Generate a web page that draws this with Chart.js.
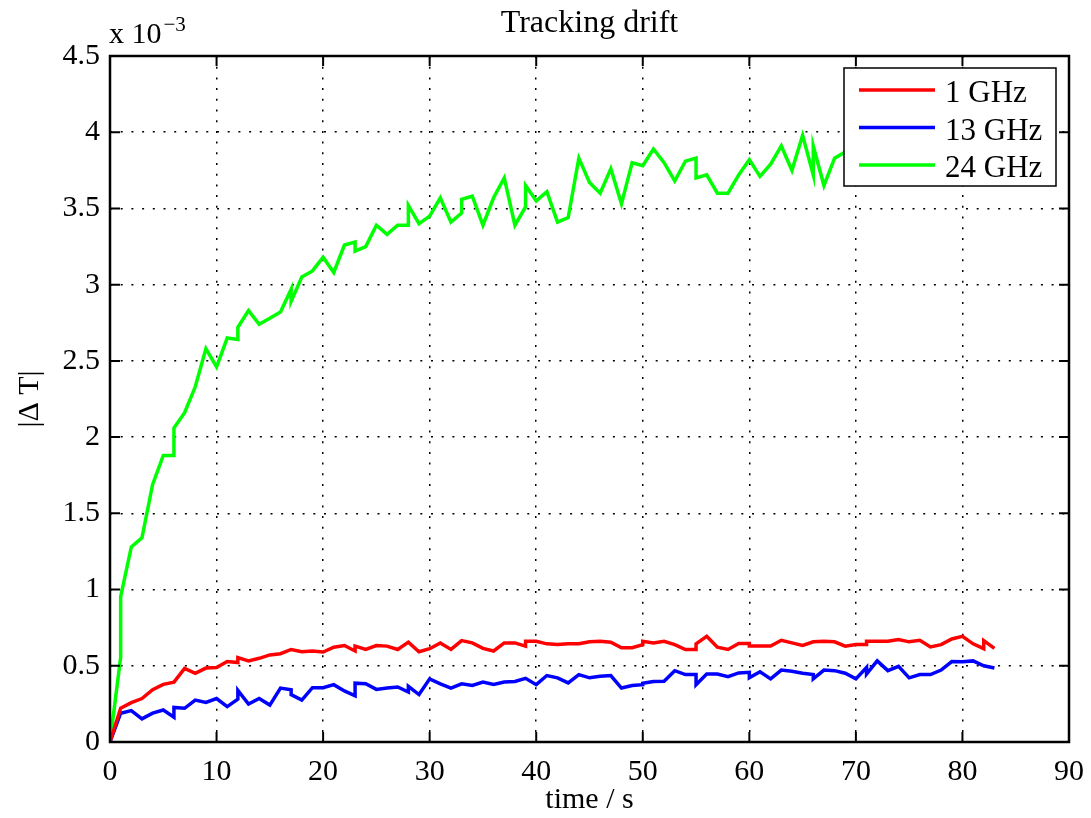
<!DOCTYPE html>
<html>
<head>
<meta charset="utf-8">
<title>Tracking drift</title>
<script src="https://cdn.jsdelivr.net/npm/chart.js@4.4.1/dist/chart.umd.min.js"></script>
<style>
  html, body { margin: 0; padding: 0; background: #fff; }
  #wrap { width: 1091px; height: 818px; }
</style>
</head>
<body>
<div id="wrap"><canvas id="drift" width="1091" height="818"></canvas></div>
<script>
// values are in units of 1e-3 (see the "x 10^-3" label)
const xTicks = [0, 10, 20, 30, 40, 50, 60, 70, 80, 90];
const yTicks = [0, 0.5, 1, 1.5, 2, 2.5, 3, 3.5, 4, 4.5];

const chartTitle = 'Tracking drift';
const seriesNames = ['1 GHz', '13 GHz', '24 GHz'];
const seriesColors = ['#ff0000', '#0000ff', '#00ff00'];

const redTime = [
  0, 1, 2, 3, 4, 5, 6, 7, 8, 9,
  10, 11, 12, 12, 13, 14, 15, 16, 17, 18, 19,
  20, 21, 22, 23, 23, 24, 25, 26, 27, 28, 29,
  30, 31, 32, 33, 34, 35, 36, 37, 38, 39, 39,
  40, 41, 42, 43, 44, 45, 46, 47, 48, 49,
  50, 50, 51, 52, 53, 54, 55, 55, 56, 57, 58, 59,
  60, 60, 61, 62, 63, 64, 65, 66, 67, 68, 69,
  70, 71, 71, 72, 73, 74, 75, 76, 77, 78, 79,
  80, 81, 82, 82, 83
];
const redValue = [
  0, 0.221, 0.258, 0.285, 0.343, 0.378, 0.393, 0.483, 0.451, 0.485,
  0.489, 0.528, 0.521, 0.554, 0.532, 0.549, 0.571, 0.579, 0.607, 0.592, 0.597,
  0.590, 0.622, 0.633, 0.597, 0.629, 0.607, 0.633, 0.629, 0.607, 0.655, 0.592,
  0.612, 0.650, 0.607, 0.665, 0.650, 0.614, 0.597, 0.650, 0.650, 0.629, 0.661,
  0.661, 0.644, 0.639, 0.644, 0.644, 0.657, 0.661, 0.655, 0.618, 0.618,
  0.639, 0.661, 0.650, 0.661, 0.639, 0.607, 0.607, 0.644, 0.693, 0.622, 0.607, 0.646,
  0.646, 0.629, 0.629, 0.629, 0.667, 0.650, 0.633, 0.657, 0.661, 0.657, 0.629,
  0.639, 0.639, 0.661, 0.661, 0.661, 0.672, 0.657, 0.667, 0.624, 0.639, 0.676,
  0.693, 0.644, 0.612, 0.665, 0.614
];

const blueTime = [
  0, 1, 2, 3, 4, 5, 6, 6, 7, 8, 9,
  10, 11, 12, 12, 13, 14, 15, 16, 17, 17, 18, 19,
  20, 21, 22, 23, 23, 24, 25, 26, 27, 28, 28, 29,
  30, 31, 32, 33, 34, 35, 36, 37, 38, 39,
  40, 41, 42, 43, 44, 45, 46, 47, 48, 49,
  50, 50, 51, 52, 53, 54, 55, 55, 56, 57, 58, 59,
  60, 60, 61, 62, 63, 64, 65, 66, 66, 67, 68, 69,
  70, 71, 71, 72, 73, 74, 75, 76, 77, 78, 79,
  80, 81, 82, 83
];
const blueValue = [
  0, 0.189, 0.206, 0.152, 0.189, 0.210, 0.163, 0.227, 0.221, 0.275, 0.260,
  0.285, 0.232, 0.281, 0.339, 0.249, 0.285, 0.242, 0.354, 0.343, 0.311, 0.275, 0.356,
  0.356, 0.376, 0.335, 0.303, 0.386, 0.382, 0.345, 0.354, 0.361, 0.328, 0.365, 0.311,
  0.414, 0.382, 0.354, 0.382, 0.371, 0.393, 0.378, 0.393, 0.397, 0.418,
  0.376, 0.436, 0.421, 0.388, 0.442, 0.421, 0.431, 0.436, 0.354, 0.371,
  0.376, 0.386, 0.397, 0.399, 0.468, 0.442, 0.442, 0.376, 0.446, 0.446, 0.429, 0.453,
  0.457, 0.421, 0.461, 0.414, 0.472, 0.464, 0.451, 0.442, 0.414, 0.472, 0.468, 0.451,
  0.414, 0.489, 0.446, 0.532, 0.468, 0.496, 0.421, 0.442, 0.442, 0.472, 0.528,
  0.526, 0.532, 0.500, 0.485
];

const greenTime = [
  0, 1, 1, 2, 3, 4, 5, 6, 6, 7, 8, 9,
  10, 11, 12, 12, 13, 14, 15, 16, 17, 17, 18, 19,
  20, 21, 22, 23, 23, 24, 25, 26, 27, 28, 28, 29,
  30, 31, 32, 33, 33, 34, 35, 36, 37, 38, 39, 39,
  40, 41, 42, 43, 44, 45, 46, 47, 48, 49,
  50, 51, 52, 53, 54, 55, 55, 56, 57, 58, 59,
  60, 61, 62, 63, 64, 65, 66, 66, 67, 68, 69,
  70, 71, 72, 73, 74, 75, 76, 77, 78, 79,
  80, 81, 82, 83
];
const greenValue = [
  0, 0.556, 0.953, 1.28, 1.34, 1.69, 1.88, 1.88, 2.06, 2.16, 2.33, 2.58,
  2.46, 2.65, 2.64, 2.72, 2.83, 2.74, 2.78, 2.82, 2.97, 2.89, 3.05, 3.09,
  3.18, 3.08, 3.26, 3.28, 3.22, 3.25, 3.39, 3.33, 3.39, 3.39, 3.52, 3.40,
  3.45, 3.57, 3.41, 3.47, 3.56, 3.58, 3.39, 3.57, 3.70, 3.39, 3.51, 3.65,
  3.55, 3.61, 3.41, 3.44, 3.83, 3.67, 3.60, 3.76, 3.53, 3.80,
  3.78, 3.89, 3.80, 3.68, 3.81, 3.83, 3.70, 3.72, 3.60, 3.60, 3.72,
  3.82, 3.71, 3.79, 3.91, 3.75, 3.98, 3.72, 3.91, 3.65, 3.83, 3.87,
  3.80, 3.92, 3.84, 3.95, 3.86, 3.90, 3.97, 3.85, 3.93, 3.88,
  4.00, 3.91, 3.86, 3.95
];

const FONT = '"Liberation Serif", "Times New Roman", serif';
Chart.defaults.font.family = FONT;
Chart.defaults.font.size = 30;
Chart.defaults.color = '#000';

function points(ts, vs) {
  return ts.map((t, i) => ({ x: t, y: vs[i] }));
}

// matlab style box: title over the axes, frame, inward ticks, exponent, opaque legend
const matlabBox = {
  id: 'matlabBox',
  afterDatasetsDraw(chart) {
    const { ctx, chartArea: a, scales: { x, y } } = chart;
    const tick = 10;
    ctx.save();
    ctx.strokeStyle = '#000';
    ctx.lineWidth = 2;
    ctx.beginPath();
    xTicks.forEach(v => {
      const px = x.getPixelForValue(v);
      ctx.moveTo(px, a.bottom); ctx.lineTo(px, a.bottom - tick);
      ctx.moveTo(px, a.top); ctx.lineTo(px, a.top + tick);
    });
    yTicks.forEach(v => {
      const py = y.getPixelForValue(v);
      ctx.moveTo(a.left, py); ctx.lineTo(a.left + tick, py);
      ctx.moveTo(a.right, py); ctx.lineTo(a.right - tick, py);
    });
    ctx.stroke();
    ctx.lineWidth = 2.5;
    ctx.strokeRect(a.left, a.top, a.right - a.left, a.bottom - a.top);

    ctx.fillStyle = '#000';
    ctx.textBaseline = 'alphabetic';

    // title, centred on the axes
    ctx.textAlign = 'center';
    ctx.font = '32px ' + FONT;
    ctx.fillText(chartTitle, (a.left + a.right) / 2, a.top - 24);

    // x 10^-3
    ctx.textAlign = 'left';
    ctx.font = '30px ' + FONT;
    ctx.fillText('x 10', a.left - 1, a.top - 13);
    const w = ctx.measureText('x 10').width;
    ctx.font = '21px ' + FONT;
    ctx.fillText('\u22123', a.left + w + 1, a.top - 25);

    // legend
    const bx = a.right - 225, by = a.top + 12, bw = 212, bh = 118;
    ctx.fillStyle = '#fff';
    ctx.fillRect(bx, by, bw, bh);
    ctx.strokeStyle = '#000';
    ctx.lineWidth = 1.5;
    ctx.strokeRect(bx, by, bw, bh);
    ctx.font = '31px ' + FONT;
    chart.data.datasets.forEach((ds, i) => {
      const ly = by + 22 + i * 37.5;
      ctx.strokeStyle = ds.borderColor;
      ctx.lineWidth = 3.5;
      ctx.beginPath();
      ctx.moveTo(bx + 15, ly);
      ctx.lineTo(bx + 91, ly);
      ctx.stroke();
      ctx.fillStyle = '#000';
      ctx.fillText(ds.label, bx + 101, ly + 12);
    });
    ctx.restore();
  }
};

const allTimes = [redTime, blueTime, greenTime];
const allValues = [redValue, blueValue, greenValue];

new Chart(document.getElementById('drift'), {
  type: 'line',
  data: {
    datasets: seriesNames.map((name, i) => ({
      label: name,
      data: points(allTimes[i], allValues[i]),
      borderColor: seriesColors[i],
      backgroundColor: seriesColors[i],
      borderWidth: 3.5,
      pointRadius: 0,
      tension: 0,
      fill: false
    }))
  },
  options: {
    responsive: false,
    animation: false,
    layout: { padding: { left: 0, right: 22, top: 56, bottom: 0 } },
    plugins: {
      legend: { display: false },
      tooltip: { enabled: false },
      title: { display: false }
    },
    scales: {
      x: {
        type: 'linear',
        min: 0,
        max: 90,
        afterBuildTicks: s => { s.ticks = xTicks.map(v => ({ value: v })); },
        afterFit: s => { s.height = 76; s.paddingLeft = 0; s.paddingRight = 0; },
        ticks: { padding: 12, maxRotation: 0, callback: v => String(v) },
        grid: { color: '#000', lineWidth: 1.5, drawTicks: false },
        border: { display: false, dash: [2, 8.7] },
        title: { display: true, text: 'time / s', padding: { top: 0, bottom: 0 } }
      },
      y: {
        type: 'linear',
        min: 0,
        max: 4.5,
        afterBuildTicks: s => { s.ticks = yTicks.map(v => ({ value: v })); },
        afterFit: s => { s.width = 110; s.paddingTop = 0; s.paddingBottom = 0; },
        ticks: { padding: 10, callback: v => String(v) },
        grid: { color: '#000', lineWidth: 1.5, drawTicks: false },
        border: { display: false, dash: [2, 8.7] },
        title: { display: true, text: '|\u0394 T|', padding: { top: 12, bottom: 0 } }
      }
    }
  },
  plugins: [matlabBox]
});
</script>
</body>
</html>
